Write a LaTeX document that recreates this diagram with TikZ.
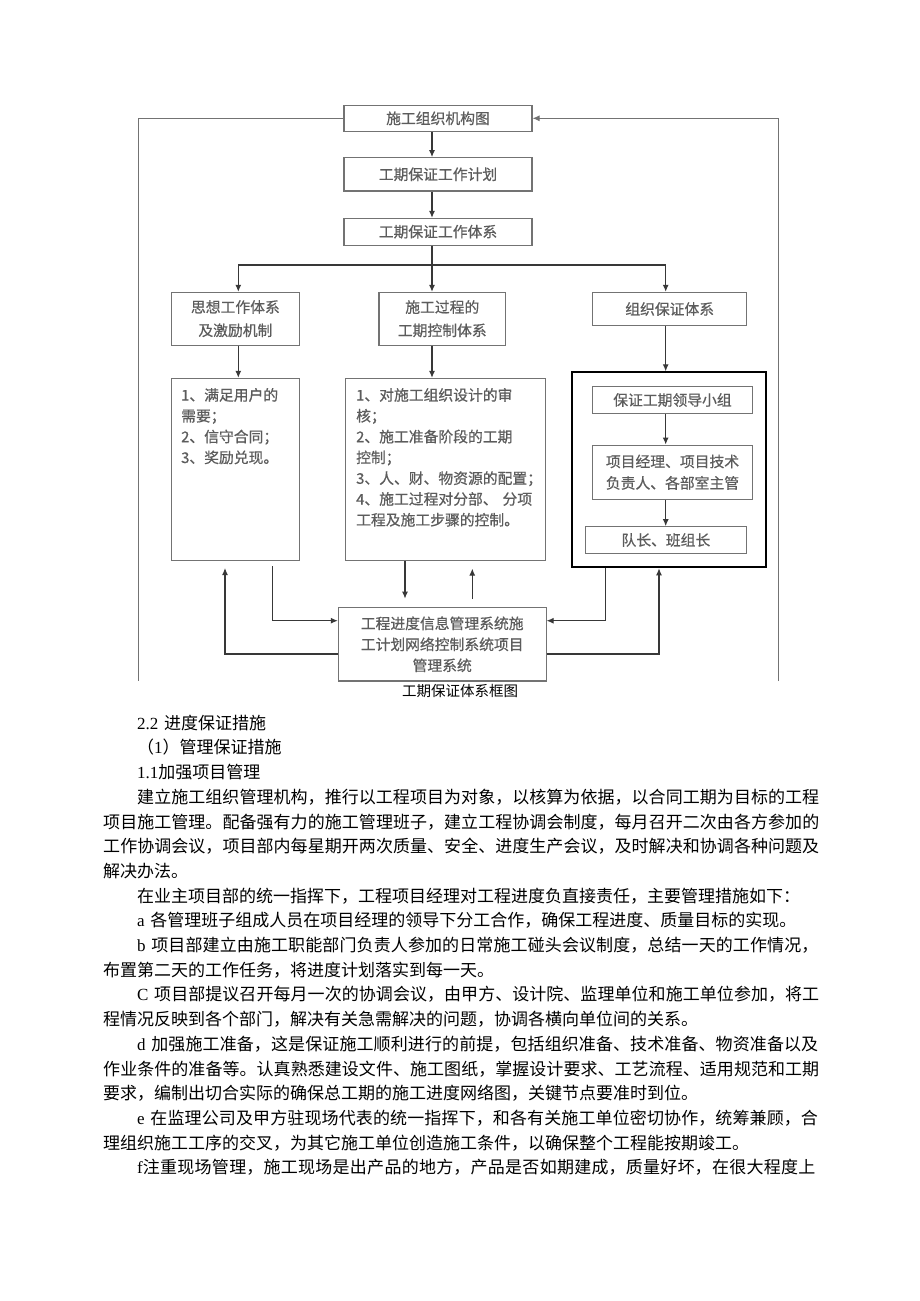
\documentclass[tikz,border=0pt]{standalone}
\usepackage{fontspec}
\setmainfont{Noto Sans CJK SC}
\newfontfamily\tms{Liberation Serif}
\newfontfamily\dgm{Noto Sans CJK SC}[FakeBold=0.6]
\usetikzlibrary{arrows.meta}
\XeTeXlinebreaklocale "zh"
\XeTeXlinebreakskip=0pt plus 2pt
\definecolor{boxgray}{gray}{0.45}
\definecolor{txtgray}{gray}{0.36}
\tikzset{
  blk/.style={draw=boxgray,line width=1.1pt,text=txtgray,inner sep=0pt,align=center,
    font=\dgm\fontsize{14.8}{23.3}\selectfont},
  lst/.style={text=txtgray,inner sep=0pt,align=left,anchor=base west,
    font=\dgm\fontsize{14.8}{20.8}\selectfont},
  con/.style={draw=black!78,line width=1.1pt},
  arr/.style={con,-{Latex[length=7pt,width=6pt]}},
  frm/.style={draw=boxgray,line width=1pt},
}
\begin{document}
\begin{tikzpicture}[x=1pt,y=-1pt]
\useasboundingbox[fill=white] (0,0) rectangle (920,1301);
\node[blk,minimum width=188pt,minimum height=26.5pt] (b1) at (438,118.3) {施工组织机构图};
\node[blk,minimum width=188pt,minimum height=33.3pt] (b2) at (438,174.3) {工期保证工作计划};
\node[blk,minimum width=188pt,minimum height=26.7pt] (b3) at (438,231.7) {工期保证工作体系};
\node[blk,minimum width=127.3pt,minimum height=52.7pt] (l1) at (235.4,318.7) {思想工作体系\\及激励机制};
\node[blk,minimum width=126.7pt,minimum height=52.7pt] (m1) at (442.3,318.7) {施工过程的\\工期控制体系};
\node[blk,minimum width=154pt,minimum height=33.4pt] (r1) at (669.7,309) {组织保证体系};
\node[blk,minimum width=127.3pt,minimum height=181.7pt] (l2) at (235.4,469.2) {};
\node[blk,minimum width=200.7pt,minimum height=181.7pt] (m2) at (445.4,469.2) {};
\node[blk,draw=black,line width=2pt,minimum width=194pt,minimum height=195pt] (r2) at (668.7,469.8) {};
\node[blk,minimum width=159.6pt,minimum height=26.6pt] (ra) at (672.5,400) {保证工期领导小组};
\node[blk,minimum width=159.6pt,minimum height=54.3pt,font=\dgm\fontsize{14.8}{21.5}\selectfont] (rb) at (672.5,472.2) {项目经理、项目技术\\负责人、各部室主管};
\node[blk,minimum width=161.7pt,minimum height=26.6pt] (rc) at (665.9,540) {队长、班组长};
\node[blk,minimum width=207.7pt,minimum height=73.3pt,font=\dgm\fontsize{14.8}{21}\selectfont] (bx) at (442.2,644.3) {\raisebox{-2pt}{工程进度信息管理系统施}\\\raisebox{-2pt}{工计划网络控制系统项目}\\\raisebox{-2pt}{管理系统}};
\node[lst,text width=115pt] (l2t) at (181,400.6) {1、满足用户的\\需要；\\2、信守合同；\\3、奖励兑现。};
\node[lst,text width=188pt] (m2t) at (356,400.6) {1、对施工组织设计的审\\核；\\2、施工准备阶段的工期\\控制；\\3、人、财、物资源的配置；\\4、施工过程对分部、 分项\\工程及施工步骤的控制。};
\coordinate (tx) at (432,0);
\coordinate (br) at (432,265);
\coordinate (lx) at (238.3,265);
\coordinate (rx) at (665.7,265);
\draw[arr] (b1.south -| tx) -- (b2.north -| tx);
\draw[arr] (b2.south -| tx) -- (b3.north -| tx);
\draw[con] (b3.south -| tx) -- (br);
\draw[con] (lx) -- (rx);
\draw[arr] (lx) -- (l1.north -| lx);
\draw[arr] (br) -- (m1.north -| tx);
\draw[arr] (rx) -- (r1.north -| rx);
\draw[arr] (l1.south -| lx) -- (l2.north -| lx);
\draw[arr] (m1.south -| tx) -- (m2.north -| tx);
\draw[arr] (r1.south -| rx) -- (r2.north -| rx);
\draw[arr] (ra.south -| rx) -- (rb.north -| rx);
\draw[arr] (rb.south -| rx) -- (rc.north -| rx);
\coordinate (dx) at (405,0);
\coordinate (ux) at (472.3,0);
\coordinate (la) at (272.3,566);
\coordinate (lb) at (225,568);
\coordinate (qx) at (605.7,0);
\coordinate (px) at (659,0);
\draw[arr,shorten >=8.5pt] (m2.south -| dx) -- (bx.north -| dx);
\draw[arr,shorten >=8pt,shorten <=8pt] (bx.north -| ux) -- (m2.south -| ux);
\draw[arr] (la) |- ([yshift=23.6pt]bx.west);
\draw[arr] ([yshift=-9.7pt]bx.west) -| (lb);
\draw[arr] (r2.south -| qx) |- ([yshift=23.6pt]bx.east);
\draw[arr] ([yshift=-9.7pt]bx.east) -| (r2.south -| px);
\coordinate (ftl) at (138,118.3);
\coordinate (fbl) at (138,681);
\coordinate (ftr) at (778.5,118.3);
\coordinate (fbr) at (778.5,681);
\draw[frm] (b1.west) -- (ftl) -- (fbl);
\draw[frm,-{Latex[length=7pt,width=6pt]}] (fbr) -- (ftr) -- (b1.east);
\node[font=\fontsize{14.5}{16}\selectfont,inner sep=0pt] (cap) at (460,691) {工期保证体系框图};
\node[anchor=base west,inner sep=0pt,text width=717pt,font=\fontsize{17}{24.7}\selectfont] (body) at (103,729.2) {%
\tolerance=9999\relax
\hspace*{2em}{\tms 2.2} 进度保证措施\par
\hspace*{2em}（{\tms 1}）管理保证措施\par
\hspace*{2em}{\tms 1.1}加强项目管理\par
\hspace*{2em}建立施工组织管理机构，推行以工程项目为对象，以核算为依据，以合同工期为目标的工程\linebreak
项目施工管理。配备强有力的施工管理班子，建立工程协调会制度，每月召开二次由各方参加的\linebreak
工作协调会议，项目部内每星期开两次质量、安全、进度生产会议，及时解决和协调各种问题及\linebreak
解决办法。\par
\hspace*{2em}在业主项目部的统一指挥下，工程项目经理对工程进度负直接责任，主要管理措施如下：\par
\hspace*{2em}{\tms a} 各管理班子组成人员在项目经理的领导下分工合作，确保工程进度、质量目标的实现。\par
\hspace*{2em}{\tms b} 项目部建立由施工职能部门负责人参加的日常施工碰头会议制度，总结一天的工作情况，\linebreak
布置第二天的工作任务，将进度计划落实到每一天。\par
\hspace*{2em}{\tms C} 项目部提议召开每月一次的协调会议，由甲方、设计院、监理单位和施工单位参加，将工\linebreak
程情况反映到各个部门，解决有关急需解决的问题，协调各横向单位间的关系。\par
\hspace*{2em}{\tms d} 加强施工准备，这是保证施工顺利进行的前提，包括组织准备、技术准备、物资准备以及\linebreak
作业条件的准备等。认真熟悉建设文件、施工图纸，掌握设计要求、工艺流程、适用规范和工期\linebreak
要求，编制出切合实际的确保总工期的施工进度网络图，关键节点要准时到位。\par
\hspace*{2em}{\tms e} 在监理公司及甲方驻现场代表的统一指挥下，和各有关施工单位密切协作，统筹兼顾，合\linebreak
理组织施工工序的交叉，为其它施工单位创造施工条件，以确保整个工程能按期竣工。\par
\parfillskip=0pt
\hspace*{2em}{\tms f}注重现场管理，施工现场是出产品的地方，产品是否如期建成，质量好坏，在很大程度上\par};
\end{tikzpicture}
\end{document}
